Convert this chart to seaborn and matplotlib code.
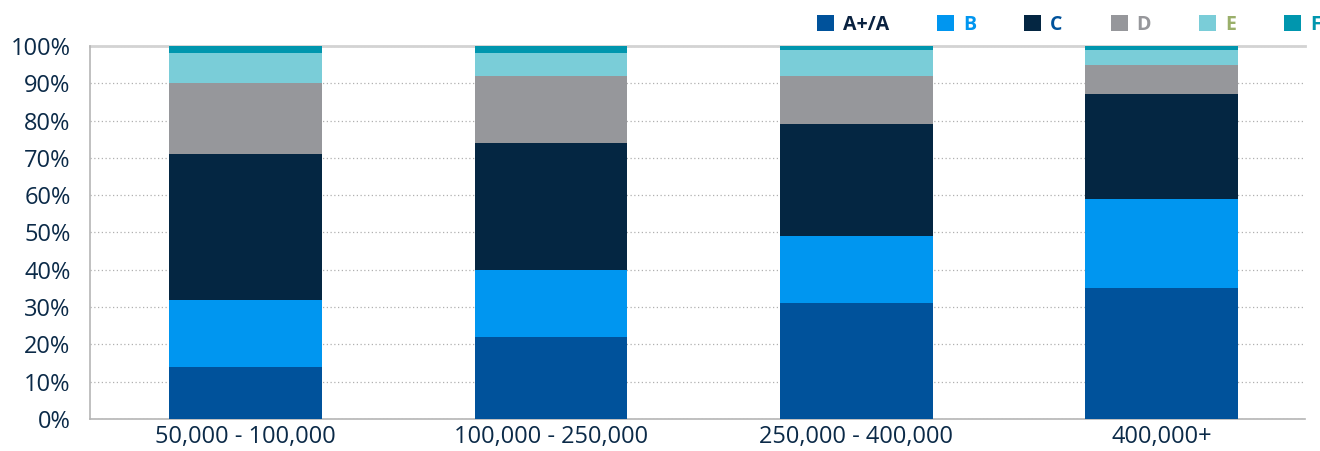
import matplotlib
matplotlib.use("Agg")
import matplotlib.pyplot as plt
from matplotlib.patches import Patch
import numpy as np
import pandas as pd
import seaborn as sns

# Population bands and rating shares (percent of each band)
bands = ["50,000 - 100,000", "100,000 - 250,000", "250,000 - 400,000", "400,000+"]
ratings = ["A+/A", "B", "C", "D", "E", "F"]
share_a = [14, 22, 31, 35]
share_b = [18, 18, 18, 24]
share_c = [39, 34, 30, 28]
share_d = [19, 18, 13, 8]
share_e = [8, 6, 7, 4]
share_f = [2, 2, 1, 1]

bar_colors = ["#00529B", "#0096F0", "#042642", "#96979B", "#7ACDD8", "#0096AE"]
label_colors = ["#0A2240", "#0096F0", "#00529B", "#96979B", "#9AAF6A", "#0096AE"]
text_color = "#0B2A48"

sns.set_theme(style="white")
plt.rcParams["font.family"] = ["Open Sans", "DejaVu Sans"]

shares = np.array([share_a, share_b, share_c, share_d, share_e, share_f], dtype=float)
cum = np.cumsum(shares, axis=0)

fig = plt.figure(figsize=(13.2, 4.51), dpi=100)
ax = fig.add_axes([0.0682, 0.071, 0.9204, 0.827])

# Stacked bars: draw cumulative totals from the top segment down
for i in range(len(ratings) - 1, -1, -1):
    df = pd.DataFrame({"band": bands, "value": cum[i]})
    sns.barplot(data=df, x="band", y="value", color=bar_colors[i], width=0.5,
                saturation=1, ax=ax, zorder=3, linewidth=0)

ax.set_ylim(0, 100)
ax.set_xlim(-0.51, 3.47)
ax.set_yticks(np.arange(0, 101, 10))
ax.set_yticklabels([f"{v}%" for v in range(0, 101, 10)])
ax.set_xlabel("")
ax.set_ylabel("")
ax.tick_params(axis="both", labelsize=17, colors=text_color, length=0)
ax.tick_params(axis="y", pad=14)
ax.tick_params(axis="x", pad=4)
ax.yaxis.grid(True, linestyle=(0, (1, 2)), color="#B0B0B0", linewidth=0.9, zorder=0)
ax.xaxis.grid(False)

for side in ["left", "bottom"]:
    ax.spines[side].set_color("#B5B5B5")
    ax.spines[side].set_linewidth(1.2)
ax.spines["top"].set_color("#D3D3D3")
ax.spines["top"].set_linewidth(2)
ax.spines["top"].set_zorder(1)
ax.spines["right"].set_visible(False)

handles = [Patch(facecolor=c, edgecolor="none") for c in bar_colors]
leg = fig.legend(handles, ratings, loc="center left",
                 bbox_to_anchor=(817 / 1320, 1 - 24.5 / 451),
                 ncol=6, frameon=False, borderpad=0, borderaxespad=0,
                 handlelength=0.875, handleheight=0.875,
                 handletextpad=0.46, columnspacing=2.47,
                 prop={"size": 14, "weight": "bold"})
for txt, c in zip(leg.get_texts(), label_colors):
    txt.set_color(c)

fig.savefig("out.png", dpi=100)
